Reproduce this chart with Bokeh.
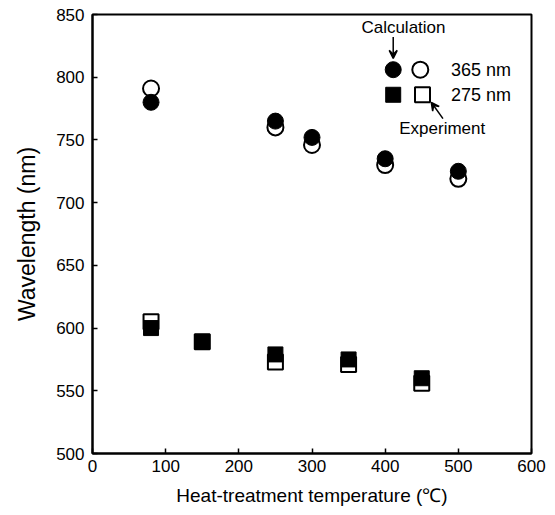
from bokeh.plotting import figure
from bokeh.models import Range1d, Arrow, VeeHead, Label, FixedTicker
from bokeh.embed import file_html
from bokeh.resources import INLINE

# Data
temp_365 = [80, 250, 300, 400, 500]
calc_365 = [780, 765, 752, 735, 725]
exp_365 = [791, 760, 746, 730, 719]
temp_275 = [80, 150, 250, 350, 450]
calc_275 = [600, 589, 579, 575, 560]
exp_275 = [605, 589, 573, 571, 556]
x_ticks = [0, 100, 200, 300, 400, 500, 600]
y_ticks = [500, 550, 600, 650, 700, 750, 800, 850]

FONT = "Liberation Sans"

p = figure(width=547, height=511, output_backend="svg", toolbar_location=None,
           x_range=Range1d(0, 600), y_range=Range1d(500, 850),
           min_border_left=92, min_border_right=16, min_border_top=14, min_border_bottom=58)
p.xgrid.visible = False
p.ygrid.visible = False
p.outline_line_color = "black"
p.outline_line_width = 2
p.background_fill_color = "white"
p.border_fill_color = "white"

for ax in (p.xaxis[0], p.yaxis[0]):
    ax.axis_line_color = "black"
    ax.axis_line_width = 2
    ax.major_tick_in = 5
    ax.major_tick_out = 0
    ax.major_tick_line_width = 1.5
    ax.minor_tick_line_color = None
    ax.major_label_text_font = FONT
    ax.major_label_text_font_size = "17px"
    ax.major_label_text_color = "black"
    ax.axis_label_text_font = FONT
    ax.axis_label_text_font_style = "normal"
    ax.axis_label_text_color = "black"

p.xaxis.ticker = FixedTicker(ticks=x_ticks)
p.yaxis.ticker = FixedTicker(ticks=y_ticks)
p.xaxis.axis_label = "Heat-treatment temperature (\u2103)"
p.yaxis.axis_label = "Wavelength (nm)"
p.xaxis.axis_label_text_font_size = "19px"
p.yaxis.axis_label_text_font_size = "23px"
p.xaxis.major_label_standoff = 6
p.xaxis.axis_label_standoff = 10
p.yaxis.major_label_standoff = 8
p.yaxis.axis_label_standoff = 13

# Experiment (open) first, then calculation (filled) on top
p.scatter(temp_365, exp_365, marker="circle", size=16, fill_color="white",
          line_color="black", line_width=2)
p.scatter(temp_275, exp_275, marker="square", size=15, fill_color="white",
          line_color="black", line_width=2)
p.scatter(temp_365, calc_365, marker="circle", size=16, fill_color="black",
          line_color="black", line_width=1)
p.scatter(temp_275, calc_275, marker="square", size=15, fill_color="black",
          line_color="black", line_width=1)

# Legend-like annotation
p.scatter([411], [806], marker="circle", size=16, fill_color="black", line_color="black")
p.scatter([448], [806], marker="circle", size=16, fill_color="white", line_color="black", line_width=2)
p.scatter([411], [786], marker="square", size=15, fill_color="black", line_color="black")
p.scatter([451], [786], marker="square", size=15, fill_color="white", line_color="black", line_width=2)

p.add_layout(Label(x=490, y=806, text="365 nm", text_font=FONT, text_font_size="18px",
                   text_baseline="middle", text_align="left", text_color="black"))
p.add_layout(Label(x=490, y=786, text="275 nm", text_font=FONT, text_font_size="18px",
                   text_baseline="middle", text_align="left", text_color="black"))
p.add_layout(Label(x=425, y=840, text="Calculation", text_font=FONT, text_font_size="17px",
                   text_baseline="middle", text_align="center", text_color="black"))
p.add_layout(Label(x=478, y=759, text="Experiment", text_font=FONT, text_font_size="17px",
                   text_baseline="middle", text_align="center", text_color="black"))

p.add_layout(Arrow(end=VeeHead(size=8, line_color="black", line_width=1.5, fill_color="black"),
                   x_start=411, y_start=832, x_end=411, y_end=815,
                   line_color="black", line_width=1.5))
p.add_layout(Arrow(end=VeeHead(size=8, line_color="black", line_width=1.5, fill_color="black"),
                   x_start=479, y_start=767, x_end=463, y_end=780,
                   line_color="black", line_width=1.5))

open("out.html", "w").write(file_html(p, INLINE))
